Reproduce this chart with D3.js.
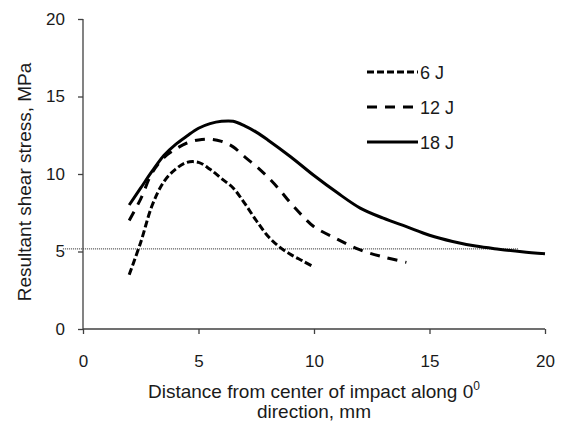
<!DOCTYPE html>
<html><head><meta charset="utf-8">
<script src="https://cdn.jsdelivr.net/npm/d3@7"></script>
<style>
html,body{margin:0;padding:0;background:#fff;}
text{font-family:"Liberation Sans",Arial,sans-serif;fill:#1a1a1a;}
</style></head>
<body><svg id="c" width="563" height="424"></svg>
<script>
// ---- data ----
const series = ["6 J", "12 J", "18 J"];
const x6 = [2, 2.5, 3, 3.5, 4, 4.5, 5, 5.5, 6, 6.5, 7, 7.5, 8, 8.5, 9, 9.5, 10];
const y6 = [3.5, 5.6, 8.0, 9.5, 10.3, 10.75, 10.75, 10.3, 9.7, 9.1, 8.1, 7.0, 6.0, 5.3, 4.8, 4.4, 4.0];
const x12 = [2, 2.5, 3, 3.5, 4, 4.5, 5, 5.5, 6, 6.5, 7, 7.5, 8, 8.5, 9, 9.5, 10, 11, 12, 13, 14];
const y12 = [7.0, 8.4, 10.1, 11.05, 11.6, 12.0, 12.2, 12.25, 12.1, 11.75, 11.1, 10.5, 9.8, 9.0, 8.1, 7.3, 6.6, 5.8, 5.1, 4.65, 4.3];
const x18 = [2, 2.5, 3, 3.5, 4, 4.5, 5, 5.5, 6, 6.5, 7, 7.5, 8, 9, 10, 11, 12, 13, 14, 15, 16, 17, 18, 19, 20];
const y18 = [8.0, 9.1, 10.2, 11.2, 11.9, 12.45, 12.95, 13.25, 13.4, 13.4, 13.1, 12.7, 12.2, 11.1, 9.9, 8.8, 7.8, 7.15, 6.6, 6.05, 5.65, 5.35, 5.15, 4.98, 4.85];
const refY = 5.2, refX0 = -0.87, refX1 = 18.83;
const xTicks = [0, 5, 10, 15, 20];
const yTicks = [0, 5, 10, 15, 20];

const svg = d3.select("#c");
const x = d3.scaleLinear().domain([0, 20]).range([83, 545]);
const y = d3.scaleLinear().domain([0, 20]).range([329, 19]);

// reference dotted line
svg.append("line")
  .attr("x1", x(refX0)).attr("x2", x(refX1))
  .attr("y1", y(refY) + 0.5).attr("y2", y(refY) + 0.5)
  .attr("stroke", "#222").attr("stroke-width", 1).attr("stroke-dasharray", "1,1");

// axes
const gx = svg.append("g").attr("transform", `translate(0,${y(0)})`)
  .call(d3.axisBottom(x).tickValues(xTicks).tickSize(5).tickPadding(21).tickFormat(d3.format("d")));
const gy = svg.append("g").attr("transform", `translate(${x(0)},0)`)
  .call(d3.axisLeft(y).tickValues(yTicks).tickSize(5).tickPadding(13).tickFormat(d3.format("d")));
[gx, gy].forEach(g => {
  g.select(".domain").attr("stroke", "#404040").attr("stroke-width", 1.3);
  g.selectAll(".tick line").attr("stroke", "#404040").attr("stroke-width", 1.3);
  g.selectAll(".tick text").attr("font-size", 17).attr("font-family", "Liberation Sans, Arial, sans-serif").attr("fill", "#1a1a1a");
});
gx.select(".domain").attr("d", `M${x(0)},0H${x(20)}`);
gy.select(".domain").attr("d", `M0,${y(0)}V${y(20)}`);

// lines
const styles = [
  {xs: x6, ys: y6, dash: "7,3"},
  {xs: x12, ys: y12, dash: "10,8"},
  {xs: x18, ys: y18, dash: null}
];
const line = d3.line().x(d => x(d[0])).y(d => y(d[1])).curve(d3.curveCatmullRom.alpha(0.5));
styles.forEach(s => {
  svg.append("path")
    .datum(s.xs.map((v, i) => [v, s.ys[i]]))
    .attr("d", line)
    .attr("fill", "none").attr("stroke", "#000").attr("stroke-width", 3)
    .attr("stroke-dasharray", s.dash);
});

// legend
const lg = svg.append("g");
series.forEach((name, i) => {
  const ly = 72 + i * 35;
  lg.append("line").attr("x1", 367).attr("x2", 418).attr("y1", ly).attr("y2", ly)
    .attr("stroke", "#000").attr("stroke-width", 3)
    .attr("stroke-dasharray", styles[i].dash);
  lg.append("text").attr("x", 420).attr("y", ly + 6.5).attr("font-size", 18).text(name);
});

// axis titles
svg.append("text").attr("transform", "translate(31,182) rotate(-90)")
  .attr("text-anchor", "middle").attr("font-size", 19).text("Resultant shear stress, MPa");
const t1 = svg.append("text").attr("x", 314).attr("y", 398).attr("text-anchor", "middle").attr("font-size", 19);
t1.append("tspan").text("Distance from center of impact along 0");
t1.append("tspan").attr("dy", -8).attr("font-size", 12).text("0");
svg.append("text").attr("x", 314).attr("y", 418).attr("text-anchor", "middle").attr("font-size", 19).text("direction, mm");
</script></body></html>
